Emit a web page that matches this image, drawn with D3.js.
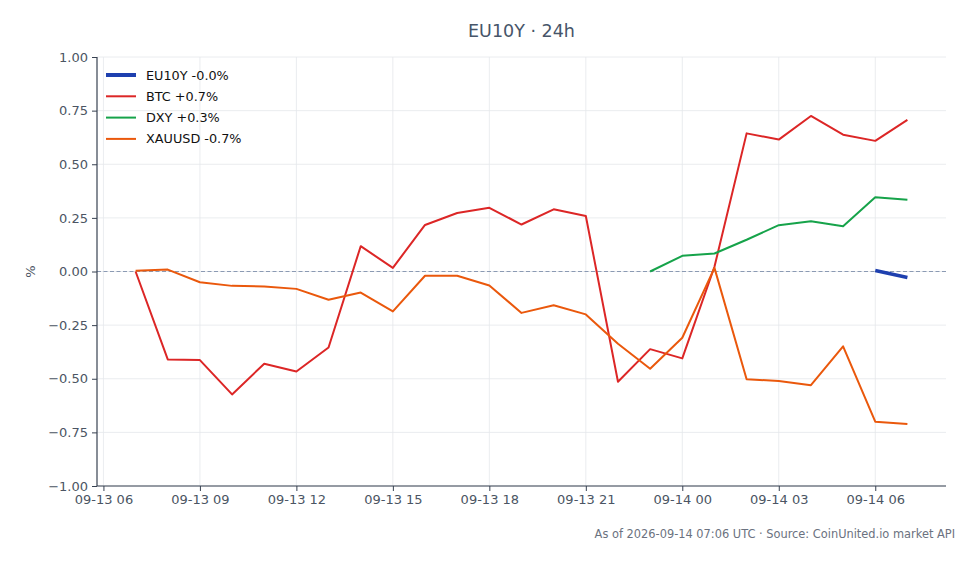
<!DOCTYPE html>
<html>
<head>
<meta charset="utf-8">
<script src="https://cdn.jsdelivr.net/npm/d3@7"></script>
<style>
  body { margin: 0; background: #fff; }
  svg { display: block; font-family: "DejaVu Sans", sans-serif; }
</style>
</head>
<body>
<div id="chart"></div>
<script>
// hourly samples, UTC
const hours = [
  "2026-09-13T07:00Z", "2026-09-13T08:00Z", "2026-09-13T09:00Z", "2026-09-13T10:00Z",
  "2026-09-13T11:00Z", "2026-09-13T12:00Z", "2026-09-13T13:00Z", "2026-09-13T14:00Z",
  "2026-09-13T15:00Z", "2026-09-13T16:00Z", "2026-09-13T17:00Z", "2026-09-13T18:00Z",
  "2026-09-13T19:00Z", "2026-09-13T20:00Z", "2026-09-13T21:00Z", "2026-09-13T22:00Z",
  "2026-09-13T23:00Z", "2026-09-14T00:00Z", "2026-09-14T01:00Z", "2026-09-14T02:00Z",
  "2026-09-14T03:00Z", "2026-09-14T04:00Z", "2026-09-14T05:00Z", "2026-09-14T06:00Z",
  "2026-09-14T07:00Z"
];

const eu10y = [null, null, null, null, null, null, null, null, null, null, null, null,
  null, null, null, null, null, null, null, null, null, null, null, 0.005, -0.028];

const btc = [0.00, -0.41, -0.413, -0.573, -0.43, -0.466, -0.354, 0.118, 0.017, 0.217, 0.273, 0.297,
  0.219, 0.29, 0.259, -0.514, -0.362, -0.405, 0.022, 0.644, 0.615, 0.725, 0.638, 0.609, 0.707];

const dxy = [null, null, null, null, null, null, null, null, null, null, null, null,
  null, null, null, null, 0.00, 0.073, 0.084, 0.148, 0.216, 0.234, 0.211, 0.346, 0.335];

const xauusd = [0.003, 0.009, -0.05, -0.067, -0.07, -0.081, -0.132, -0.098, -0.186, -0.02, -0.02, -0.065,
  -0.193, -0.157, -0.2, -0.337, -0.453, -0.309, 0.017, -0.502, -0.511, -0.53, -0.349, -0.7, -0.711];

const seriesNames = ["EU10Y -0.0%", "BTC +0.7%", "DXY +0.3%", "XAUUSD -0.7%"];
const seriesValues = [eu10y, btc, dxy, xauusd];
const seriesColors = ["#1e40af", "#dc2626", "#16a34a", "#ea580c"];
const seriesWidths = [3.5, 2, 2, 2];

const yTicks = [-1, -0.75, -0.5, -0.25, 0, 0.25, 0.5, 0.75, 1];

const W = 978, H = 564;
const margin = {top: 57, right: 32, bottom: 78, left: 97};
const iw = W - margin.left - margin.right;
const ih = H - margin.top - margin.bottom;

const times = hours.map(h => new Date(h));
const pad = 1.2 * 3600 * 1000;   // 5% of the 24h span on each side

const x = d3.scaleUtc()
  .domain([+times[0] - pad, +times[times.length - 1] + pad])
  .range([0, iw]);
const y = d3.scaleLinear().domain([-1, 1]).range([ih, 0]);

const svg = d3.select("#chart").append("svg")
  .attr("width", W).attr("height", H);

svg.append("text")
  .attr("x", margin.left + iw / 2).attr("y", 37)
  .attr("text-anchor", "middle")
  .attr("font-size", 17.5).attr("fill", "#475569")
  .text("EU10Y · 24h");

const g = svg.append("g").attr("transform", `translate(${margin.left},${margin.top})`);

const xTicks = d3.utcHour.every(3).range(new Date("2026-09-13T06:00Z"), new Date("2026-09-14T07:00Z"));

// grid
g.append("g").selectAll("line").data(yTicks).join("line")
  .attr("x1", 0).attr("x2", iw)
  .attr("y1", d => y(d)).attr("y2", d => y(d))
  .attr("stroke", "#e5e7eb").attr("stroke-width", 0.8);
g.append("g").selectAll("line").data(xTicks).join("line")
  .attr("x1", d => x(d)).attr("x2", d => x(d))
  .attr("y1", 0).attr("y2", ih)
  .attr("stroke", "#e5e7eb").attr("stroke-width", 0.8);

// zero line
g.append("line")
  .attr("x1", 0).attr("x2", iw)
  .attr("y1", y(0)).attr("y2", y(0))
  .attr("stroke", "#8b9ab3").attr("stroke-width", 1)
  .attr("stroke-dasharray", "4,2.5");

// axes
const xAxis = g.append("g")
  .attr("transform", `translate(0,${ih})`)
  .call(d3.axisBottom(x).tickValues(xTicks).tickFormat(d3.utcFormat("%m-%d %H")).tickSize(5).tickPadding(4));
const yAxis = g.append("g")
  .call(d3.axisLeft(y).tickValues(yTicks)
    .tickFormat(d => d3.format(".2f")(d).replace("-", "\u2212")).tickSize(5).tickPadding(4));

[xAxis, yAxis].forEach(a => {
  a.select(".domain").attr("stroke", "#374151").attr("stroke-width", 1.2);
  a.selectAll(".tick line").attr("stroke", "#374151").attr("stroke-width", 1);
  a.selectAll(".tick text").attr("fill", "#4b5563").attr("font-size", 13)
    .attr("font-family", "DejaVu Sans, sans-serif");
});
// keep the x domain from drawing the outer ticks
xAxis.select(".domain").attr("d", `M0,0H${iw}`);
yAxis.select(".domain").attr("d", `M0,${ih}V0`);

svg.append("text")
  .attr("transform", `translate(35,${margin.top + y(0)}) rotate(-90)`)
  .attr("text-anchor", "middle")
  .attr("font-size", 13).attr("fill", "#4b5563")
  .text("%");

// lines
const line = d3.line()
  .defined(d => d.v !== null)
  .x(d => x(d.t))
  .y(d => y(d.v));

seriesValues.forEach((vals, i) => {
  const pts = vals.map((v, j) => ({t: times[j], v: v}));
  g.append("path")
    .datum(pts)
    .attr("d", line)
    .attr("fill", "none")
    .attr("stroke", seriesColors[i])
    .attr("stroke-width", seriesWidths[i])
    .attr("stroke-linejoin", "round");
});

// legend
const legend = g.append("g").attr("transform", "translate(9,18)");
seriesNames.forEach((name, i) => {
  const row = legend.append("g").attr("transform", `translate(0,${i * 21.3})`);
  row.append("line")
    .attr("x1", 0).attr("x2", 30)
    .attr("stroke", seriesColors[i])
    .attr("stroke-width", i === 0 ? 4 : 2);
  row.append("text")
    .attr("x", 40).attr("y", 4.5)
    .attr("font-size", 12.8).attr("fill", "#111")
    .text(name);
});

svg.append("text")
  .attr("x", 955).attr("y", 538)
  .attr("text-anchor", "end")
  .attr("font-size", 11.4).attr("fill", "#6b7280")
  .text("As of 2026-09-14 07:06 UTC · Source: CoinUnited.io market API");
</script>
</body>
</html>
